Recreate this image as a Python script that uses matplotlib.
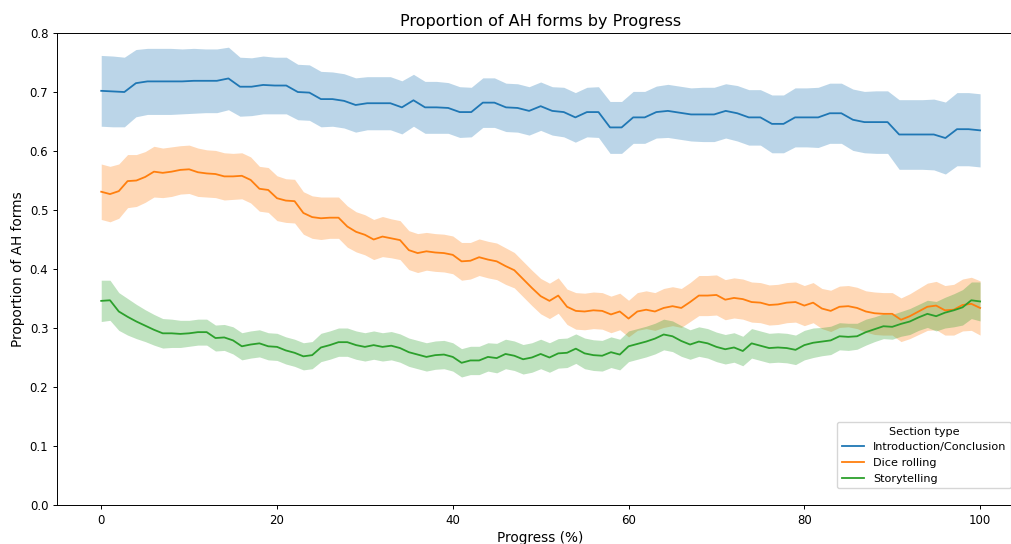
import matplotlib.pyplot as plt
import numpy as np

# Introduction/Conclusion: coarse grid (77 points over 0-100)
intro_x = np.linspace(0, 100, 77)
intro_y = [
    0.702, 0.701, 0.700, 0.715, 0.718, 0.718, 0.718, 0.718, 0.719, 0.719,
    0.719, 0.723, 0.709, 0.709, 0.712, 0.711, 0.711, 0.700, 0.699, 0.688,
    0.688, 0.685, 0.678, 0.681, 0.681, 0.681, 0.674, 0.686, 0.674, 0.674,
    0.673, 0.666, 0.666, 0.682, 0.682, 0.674, 0.673, 0.668, 0.676, 0.668,
    0.666, 0.657, 0.666, 0.666, 0.640, 0.640, 0.657, 0.657, 0.666, 0.668,
    0.665, 0.662, 0.662, 0.662, 0.668, 0.664, 0.657, 0.657, 0.646, 0.646,
    0.657, 0.657, 0.657, 0.664, 0.664, 0.653, 0.649, 0.649, 0.649, 0.628,
    0.628, 0.628, 0.628, 0.622, 0.637, 0.637, 0.635,
]
intro_ci = [
    0.060, 0.060, 0.059, 0.057, 0.056, 0.056, 0.056, 0.055, 0.055, 0.054,
    0.054, 0.053, 0.050, 0.049, 0.049, 0.048, 0.048, 0.047, 0.047, 0.047,
    0.046, 0.046, 0.046, 0.045, 0.045, 0.045, 0.045, 0.044, 0.044, 0.044,
    0.043, 0.043, 0.042, 0.042, 0.042, 0.041, 0.041, 0.041, 0.041, 0.041,
    0.042, 0.042, 0.042, 0.043, 0.044, 0.044, 0.044, 0.044, 0.044, 0.045,
    0.045, 0.045, 0.046, 0.046, 0.046, 0.047, 0.047, 0.047, 0.049, 0.049,
    0.050, 0.050, 0.051, 0.051, 0.051, 0.052, 0.052, 0.053, 0.053, 0.059,
    0.059, 0.059, 0.060, 0.061, 0.062, 0.062, 0.062,
]

# Dice rolling and Storytelling: one value per percent
prog_x = np.arange(0, 101)
dice_y = [
    0.531, 0.527, 0.532, 0.549, 0.550, 0.556, 0.565, 0.563, 0.565, 0.568,
    0.569, 0.564, 0.562, 0.561, 0.557, 0.557, 0.558, 0.551, 0.536, 0.534,
    0.520, 0.516, 0.515, 0.495, 0.488, 0.486, 0.487, 0.487, 0.472, 0.463,
    0.458, 0.450, 0.455, 0.452, 0.449, 0.432, 0.427, 0.430, 0.428, 0.427,
    0.424, 0.413, 0.414, 0.420, 0.416, 0.413, 0.405, 0.398, 0.383, 0.368,
    0.354, 0.346, 0.355, 0.336, 0.329, 0.328, 0.330, 0.329, 0.323, 0.328,
    0.316, 0.328, 0.331, 0.328, 0.334, 0.337, 0.334, 0.344, 0.355, 0.355,
    0.356, 0.348, 0.351, 0.349, 0.344, 0.343, 0.339, 0.340, 0.343, 0.344,
    0.338, 0.343, 0.333, 0.329, 0.336, 0.337, 0.334, 0.328, 0.325, 0.324,
    0.324, 0.314, 0.320, 0.328, 0.336, 0.338, 0.330, 0.331, 0.339, 0.341,
    0.334,
]
dice_ci = [
    0.047, 0.047, 0.046, 0.045, 0.044, 0.043, 0.043, 0.042, 0.042, 0.041,
    0.041, 0.041, 0.040, 0.040, 0.040, 0.039, 0.039, 0.039, 0.038, 0.038,
    0.038, 0.037, 0.037, 0.036, 0.036, 0.036, 0.035, 0.035, 0.035, 0.034,
    0.034, 0.034, 0.034, 0.033, 0.033, 0.033, 0.033, 0.032, 0.032, 0.032,
    0.032, 0.032, 0.031, 0.031, 0.031, 0.031, 0.031, 0.030, 0.030, 0.030,
    0.030, 0.030, 0.030, 0.030, 0.031, 0.031, 0.031, 0.031, 0.031, 0.031,
    0.031, 0.032, 0.032, 0.032, 0.033, 0.033, 0.033, 0.033, 0.034, 0.034,
    0.034, 0.034, 0.034, 0.034, 0.034, 0.034, 0.034, 0.034, 0.034, 0.034,
    0.034, 0.034, 0.034, 0.035, 0.035, 0.035, 0.035, 0.035, 0.036, 0.036,
    0.036, 0.037, 0.038, 0.039, 0.040, 0.041, 0.042, 0.043, 0.044, 0.045,
    0.046,
]
story_y = [
    0.346, 0.347, 0.328, 0.319, 0.311, 0.304, 0.297, 0.291, 0.291, 0.290,
    0.291, 0.293, 0.293, 0.283, 0.284, 0.279, 0.269, 0.272, 0.274, 0.269,
    0.268, 0.262, 0.258, 0.252, 0.254, 0.267, 0.271, 0.276, 0.276, 0.271,
    0.268, 0.271, 0.268, 0.270, 0.266, 0.259, 0.255, 0.251, 0.254, 0.255,
    0.251, 0.241, 0.245, 0.245, 0.251, 0.249, 0.256, 0.253, 0.247, 0.250,
    0.256, 0.250, 0.257, 0.258, 0.265, 0.257, 0.254, 0.253, 0.259, 0.255,
    0.269, 0.273, 0.277, 0.282, 0.289, 0.286, 0.278, 0.272, 0.277, 0.274,
    0.268, 0.264, 0.267, 0.261, 0.274, 0.270, 0.266, 0.267, 0.266, 0.263,
    0.271, 0.275, 0.277, 0.279, 0.286, 0.285, 0.286, 0.293, 0.298, 0.303,
    0.302, 0.307, 0.311, 0.318, 0.324, 0.320, 0.326, 0.330, 0.335, 0.347,
    0.345,
]
story_ci = [
    0.035, 0.034, 0.032, 0.031, 0.029, 0.027, 0.026, 0.025, 0.024, 0.023,
    0.022, 0.022, 0.022, 0.022, 0.022, 0.023, 0.023, 0.023, 0.023, 0.023,
    0.023, 0.023, 0.023, 0.023, 0.023, 0.024, 0.024, 0.024, 0.024, 0.024,
    0.024, 0.024, 0.024, 0.024, 0.024, 0.024, 0.024, 0.024, 0.024, 0.024,
    0.024, 0.024, 0.024, 0.024, 0.024, 0.025, 0.025, 0.025, 0.025, 0.025,
    0.025, 0.025, 0.025, 0.025, 0.025, 0.026, 0.026, 0.026, 0.026, 0.026,
    0.026, 0.026, 0.026, 0.026, 0.026, 0.026, 0.026, 0.025, 0.025, 0.025,
    0.025, 0.025, 0.025, 0.025, 0.025, 0.025, 0.025, 0.025, 0.025, 0.025,
    0.025, 0.025, 0.024, 0.024, 0.023, 0.023, 0.022, 0.022, 0.021, 0.021,
    0.021, 0.021, 0.022, 0.022, 0.023, 0.025, 0.026, 0.028, 0.030, 0.031,
    0.033,
]

series = [
    ("Introduction/Conclusion", intro_x, intro_y, intro_ci, "tab:blue"),
    ("Dice rolling", prog_x, dice_y, dice_ci, "tab:orange"),
    ("Storytelling", prog_x, story_y, story_ci, "tab:green"),
]

fig = plt.figure(figsize=(10.12, 5.44), dpi=100)
ax = fig.add_axes([0.0566, 0.0717, 0.9553, 0.8676])

for name, xs, ys, ci, color in series:
    ys = np.array(ys)
    ci = np.array(ci)
    ax.fill_between(xs, ys - ci, ys + ci, color=color, alpha=0.3,
                    linewidth=0)
    ax.plot(xs, ys, color=color, linewidth=1.3, label=name)

ax.set_xlim(-5, 105)
ax.set_ylim(0, 0.8)
ax.tick_params(labelsize=8.5, length=3, width=0.7)
for spine in ax.spines.values():
    spine.set_linewidth(0.7)
ax.set_title("Proportion of AH forms by Progress", fontsize=11.5, pad=5)
ax.set_xlabel("Progress (%)", fontsize=9.8, labelpad=3)
ax.set_ylabel("Proportion of AH forms", fontsize=9.8, labelpad=3)
ax.legend(title="Section type", loc="lower right", fontsize=8.1,
          title_fontsize=8.1, borderaxespad=0,
          bbox_to_anchor=(1011 / 1012, 56 / 544),
          bbox_transform=fig.transFigure)

fig.savefig("out.png")
